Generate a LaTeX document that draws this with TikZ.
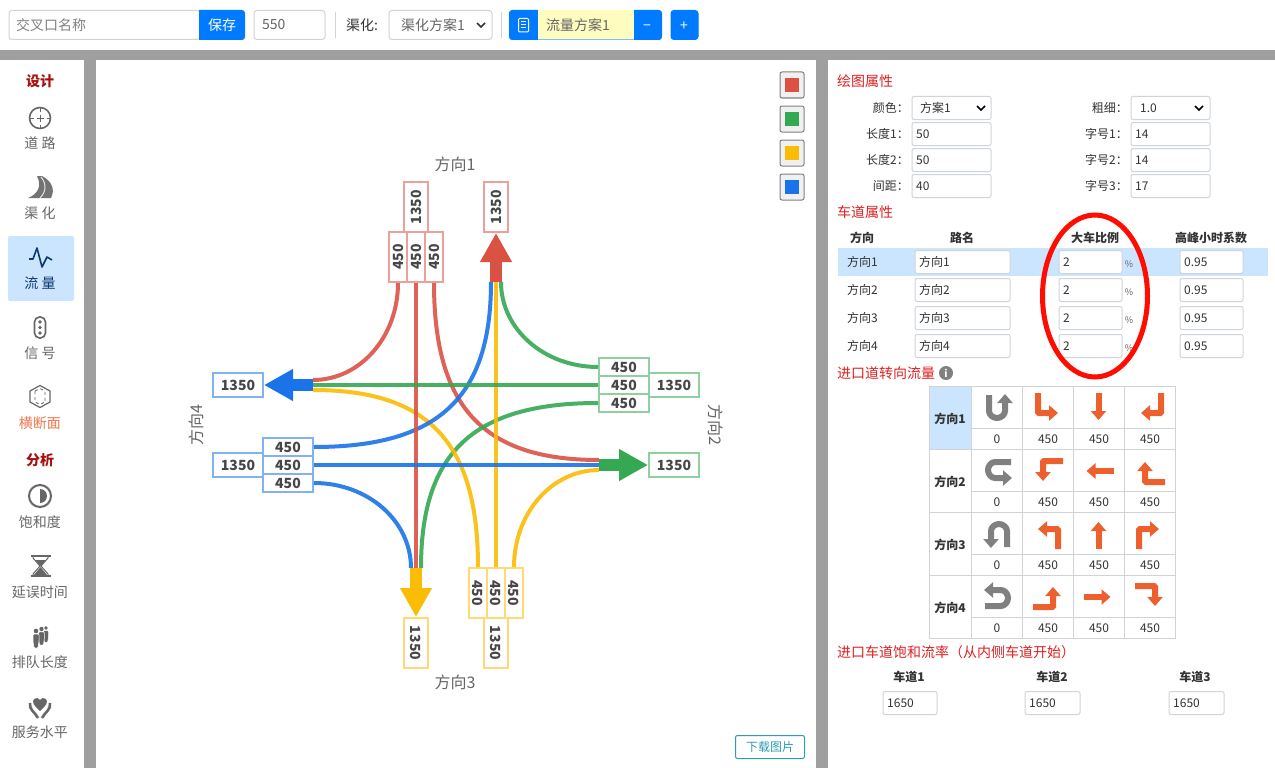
\documentclass[tikz,border=0pt]{standalone}
\usepackage{fontspec}
\setmainfont{Noto Sans CJK SC}
\usetikzlibrary{arrows.meta}

\newcommand{\fs}[1]{\fontsize{#1}{#1}\selectfont}

\definecolor{bargray}{HTML}{9F9F9F}
\definecolor{primary}{HTML}{007BFF}
\definecolor{rowblue}{HTML}{CCE5FF}
\definecolor{fieldline}{HTML}{CED4DA}
\definecolor{cellline}{HTML}{D0D4D8}
\definecolor{textdark}{HTML}{333333}
\definecolor{textgray}{HTML}{666666}
\definecolor{headred}{HTML}{E02020}
\definecolor{darkred}{HTML}{A81010}
\definecolor{navy}{HTML}{0B3A6E}
\definecolor{lred}{HTML}{DB5245}
\definecolor{lgreen}{HTML}{34A853}
\definecolor{lyellow}{HTML}{FBBC05}
\definecolor{lblue}{HTML}{1A73E8}
\definecolor{turnorange}{HTML}{EE5F2E}
\definecolor{turngray}{HTML}{808080}
\definecolor{infoteal}{HTML}{2E9BB0}

\tikzset{
  field/.style={draw=fieldline, line width=1pt, rounded corners=2pt, fill=white, anchor=west,
    minimum height=#1, inner sep=0pt, text=textdark, font=\fs{12}},
  field/.default=23pt,
  fieldtext/.style={anchor=west, inner sep=0pt, text=textdark, font=\fs{12}},
  barbox/.style={draw=fieldline, line width=1pt, rounded corners=3pt, fill=white, minimum height=29pt, inner sep=0pt, text=textgray, font=\fs{14}},
  bartext/.style={inner sep=0pt, text=textgray, font=\fs{14}},
  rlabel/.style={anchor=east, inner sep=0pt, text=textdark, font=\fs{12}},
  heading/.style={anchor=west, inner sep=0pt, text=headred, font=\fs{14}},
  tablehead/.style={inner sep=0pt, text=textdark, font=\fs{12}\bfseries},
  cellval/.style={inner sep=0pt, text=textdark, font=\fs{12}},
  sidehead/.style={inner sep=0pt, text=darkred, font=\fs{14}\bfseries},
  sidetext/.style={inner sep=0pt, text=textgray, font=\fs{14}},
  dirlabel/.style={inner sep=0pt, text=textgray, font=\fs{16}},
  lanebox/.style={draw=#1!55!white, line width=2pt, fill=white, minimum width=50pt, minimum height=18pt,
    inner sep=0pt, text=textdark!90, font=\fs{14}\bfseries},
  sumbox/.style={lanebox=#1, minimum height=24pt},
  flow/.style={line width=4pt, draw=#1, draw opacity=.9},
  bigarrow/.style={line width=12pt, draw=#1, -{Triangle[length=29pt,width=30pt,fill=#1]}},
  chev/.style={line width=1.6pt, draw=#1},
  chev/.default=black,
  sidepen/.style={draw=textgray, line width=1.6pt},
  swatchbtn/.style={draw=gray, line width=1pt, rounded corners=2pt, fill=black!6, minimum width=24pt, minimum height=26pt, inner sep=0pt},
  turn/.style={line width=6pt, draw=#1, rounded corners=1pt, -{Triangle[length=9pt,width=15pt,fill=#1]}},
  pics/turnu/.style={code={\draw[turn=turngray] (-9,-13) -- (-9,2) arc (180:0:8) -- (7,-14);}},
  pics/turnr/.style={code={\draw[turn=turnorange] (-10,-15) -- (-10,5) -- (10,5);}},
  pics/turns/.style={code={\draw[turn=turnorange] (0,-15) -- (0,12);}},
  pics/turnl/.style={code={\draw[turn=turnorange] (11,-15) -- (11,5) -- (-9,5);}},
  pics/person/.style={code={
    \fill[textgray] (0,0) circle (2.3);
    \filldraw[fill=textgray, draw=white, line width=0.5pt, rounded corners=1pt] (-3,3) -- (3,3) -- (3,10) -- (2,17) -- (-2,17) -- (-3,10) -- cycle;}},
}

\begin{document}
\begin{tikzpicture}[x=1pt,y=-1pt]
\useasboundingbox (0,0) rectangle (1275,768);
\fill[white] (0,0) rectangle (1275,768);

% frame
\fill[bargray] (0,50) rectangle (1275,60);
\fill[bargray] (84,60) rectangle (96,768);
\fill[bargray] (816,60) rectangle (828,768);

% top bar
\node[barbox, anchor=west, minimum width=191pt] (namefield) at (8.5,25) {};
\node[bartext, text=gray, anchor=west] (nametext) at (16,25) {交叉口名称};
\fill[primary] (199,10) [rounded corners=3pt] -- (245,10) -- (245,40) [sharp corners] -- (199,40) -- cycle;
\node[bartext, text=white] (savetext) at (222,25) {保存};
\node[barbox, anchor=west, minimum width=71pt] (sizefield) at (253.5,25) {};
\node[bartext, anchor=west] (sizetext) at (262,25) {550};
\draw[fieldline] (335.5,12) -- (335.5,38);
\node[bartext, text=textdark] (channellabel) at (362,25) {渠化:};
\node[barbox, anchor=west, minimum width=103pt] (channelselect) at (388.5,25) {};
\node[bartext, anchor=west] (channeltext) at (401,25) {渠化方案1};
\draw[chev=textdark] (477,23) -- (481,27) -- (485,23);
\draw[fieldline] (501.5,12) -- (501.5,38);
\fill[primary] (538,10) [rounded corners=3pt] -- (509,10) -- (509,40) [sharp corners] -- (538,40) -- cycle;
\fill[yellow!25!white] (538,10) rectangle (634,40);
\draw[primary!50!white] (538,39.5) -- (634,39.5);
\node[bartext, anchor=west] (flowtext) at (546,25) {流量方案1};
\draw[white, line width=1pt, rounded corners=1pt] (518.5,18.5) rectangle (528.5,32);
\draw[white, line width=1pt] (521,22) -- (526,22) (521,25) -- (526,25) (521,28) -- (526,28);
\fill[primary] (634,10) [rounded corners=3pt] -- (662,10) -- (662,40) [sharp corners] -- (634,40) -- cycle;
\node[bartext, text=white] (minustext) at (647,28) {−};
\node[barbox, draw=primary, fill=primary, minimum width=27pt, anchor=west] (plusbtn) at (670.5,25) {};
\node[bartext, text=white] (plustext) at (684,26.5) {+};

% side menu
\fill[rowblue, rounded corners=2pt] (8,236) rectangle (74,301);
\node[sidehead] (designhead) at (40,81) {设计};
\draw[sidepen] (40,118) circle (10.5);
\draw[sidepen, line width=1pt] (40,107) -- (40,111.5) (40,124.5) -- (40,129) (29,118) -- (33.5,118) (46.5,118) -- (51,118) (36.5,118) -- (43.5,118) (40,114.5) -- (40,121.5);
\node[sidetext] (roadlabel) at (40,143) {道 路};
\fill[turngray!90!black] (28,198) .. controls (38,194) and (42,186) .. (37,176) -- (42,176) .. controls (50,180) and (56,188) .. (51,198) -- cycle;
\draw[white!80!gray, line width=1pt] (41,177) .. controls (47,184) and (46,192) .. (40,198);
\node[sidetext] (channelbtn) at (40,213) {渠 化};
\draw[navy, line width=1.6pt, line join=round] (29,259) -- (33,259) -- (37,248) -- (42,267) -- (47,257) -- (52,260);
\node[sidetext, text=navy] (flowbtn) at (40,283) {流 量};
\draw[sidepen, rounded corners=5pt] (34.5,317) rectangle (45.5,338);
\fill[textgray] (40,322) circle (1.8) (40,327.5) circle (1.8) (40,333) circle (1.8);
\node[sidetext] (signalbtn) at (40,353) {信 号};
\draw[sidepen, line width=1.2pt] (40,385.5) -- (50,391) -- (50,402) -- (40,407.5) -- (30,402) -- (30,391) -- cycle;
\draw[textgray, line width=0.8pt, dashed] (35,391) -- (40,388.5) -- (45,391) -- (45,402) (35,391) -- (35,402) -- (40,404.5) -- (45,402);
\node[sidetext, text=turnorange!85!white] (sectionbtn) at (40,423) {横断面};
\node[sidehead] (analysishead) at (40,460) {分析};
\draw[sidepen, line width=2pt] (40,496) circle (11);
\fill[textgray] (40,489) arc (-90:90:7) -- cycle;
\node[sidetext] (satbtn) at (40,522) {饱和度};
\draw[sidepen] (30.5,556) -- (51,556) (30.5,576) -- (51,576);
\draw[sidepen, line width=1pt] (33,556) -- (33,558) -- (40,566) -- (33,574) -- (33,576) (48,556) -- (48,558) -- (41,566) -- (48,574) -- (48,576);
\fill[textgray] (35,560) -- (46,560) -- (40.5,566) -- cycle (40.5,567) -- (47,575) -- (34,575) -- cycle;
\node[sidetext] (delaybtn) at (40,592) {延误时间};
\pic[scale=0.85] at (46,628) {person};
\pic[scale=0.95] at (41.5,629) {person};
\pic at (36,631) {person};
\node[sidetext] (queuebtn) at (40,662) {排队长度};
\fill[textgray] (40,711) .. controls (33,705) and (32,702) .. (34,699) .. controls (36,697) and (39,698) .. (40,700) .. controls (41,698) and (44,697) .. (46,699) .. controls (48,702) and (47,705) .. (40,711) -- cycle;
\draw[sidepen, line width=2.6pt] (30,703) .. controls (29,710) and (35,712) .. (38,718);
\draw[sidepen, line width=2.6pt] (50,703) .. controls (51,710) and (45,712) .. (42,718);
\node[sidetext] (servicebtn) at (40,732) {服务水平};

% colour buttons
\node[swatchbtn] (redbtn) at (792,85) {};
\fill[lred] (785,78) rectangle (799,92);
\node[swatchbtn] (greenbtn) at (792,119) {};
\fill[lgreen] (785,112) rectangle (799,126);
\node[swatchbtn] (yellowbtn) at (792,153) {};
\fill[lyellow] (785,146) rectangle (799,160);
\node[swatchbtn] (bluebtn) at (792,187) {};
\fill[lblue] (785,180) rectangle (799,194);

% direction names
\node[dirlabel] (dir1) at (455,164) {方向1};
\node[dirlabel, rotate=-90] (dir2) at (716,425) {方向2};
\node[dirlabel] (dir3) at (455,682) {方向3};
\node[dirlabel, rotate=90] (dir4) at (196,425) {方向4};

% arrow bases
\coordinate (n1) at (491,282);
\coordinate (n2) at (496,282);
\coordinate (n3) at (501,282);
\coordinate (e1) at (599,460);
\coordinate (e2) at (599,465);
\coordinate (e3) at (599,470);
\coordinate (s1) at (411,568);
\coordinate (s2) at (416,568);
\coordinate (s3) at (421,568);
\coordinate (w1) at (313,380);
\coordinate (w2) at (313,385);
\coordinate (w3) at (313,390);

% lane boxes, north
\node[lanebox=lred, rotate=90] (in1a) at (398,257) {450};
\node[lanebox=lred, rotate=90] (in1b) at (416,257) {450};
\node[lanebox=lred, rotate=90] (in1c) at (434,257) {450};
\node[sumbox=lred, rotate=90] (sum1) at (416,207) {1350};
\node[sumbox=lred, rotate=90] (out1) at (496,207) {1350};
% lane boxes, east
\node[lanebox=lgreen] (in2a) at (624,367) {450};
\node[lanebox=lgreen] (in2b) at (624,385) {450};
\node[lanebox=lgreen] (in2c) at (624,403) {450};
\node[sumbox=lgreen] (sum2) at (674,385) {1350};
\node[sumbox=lgreen] (out2) at (674,465) {1350};
% lane boxes, south
\node[lanebox=lyellow, rotate=-90] (in3a) at (478,593) {450};
\node[lanebox=lyellow, rotate=-90] (in3b) at (496,593) {450};
\node[lanebox=lyellow, rotate=-90] (in3c) at (514,593) {450};
\node[sumbox=lyellow, rotate=-90] (sum3) at (496,643) {1350};
\node[sumbox=lyellow, rotate=-90] (out3) at (416,643) {1350};
% lane boxes, west
\node[lanebox=lblue] (in4a) at (288,447) {450};
\node[lanebox=lblue] (in4b) at (288,465) {450};
\node[lanebox=lblue] (in4c) at (288,483) {450};
\node[sumbox=lblue] (sum4) at (238,465) {1350};
\node[sumbox=lblue] (out4) at (238,385) {1350};

% flows, .west of a turned box is the end facing the junction
\draw[flow=lred] (in1a.west) .. controls +(0,54) and +(47,0) .. (w1);
\draw[flow=lred] (in1c.west) .. controls +(0,125) and +(-115,0) .. (e1);
\draw[flow=lgreen] (in2a.west) .. controls +(-54,0) and +(0,47) .. (n3);
\draw[flow=lgreen] (in2c.west) .. controls +(-125,0) and +(0,-115) .. (s3);
\draw[flow=lyellow] (in3a.west) .. controls +(0,-125) and +(115,0) .. (w3);
\draw[flow=lyellow] (in3c.west) .. controls +(0,-54) and +(-47,0) .. (e3);
\draw[flow=lblue] (in4a.east) .. controls +(125,0) and +(0,115) .. (n1);
\draw[flow=lblue] (in4c.east) .. controls +(54,0) and +(0,-47) .. (s1);
% straight on
\draw[flow=lred] (in1b.west) -- (s2);
\draw[flow=lyellow] (in3b.west) -- (n2);
\draw[flow=lgreen] (in2b.west) -- (w2);
\draw[flow=lblue] (in4b.east) -- (e2);

\draw[bigarrow=lred] (n2) -- (out1.west);
\draw[bigarrow=lgreen] (e2) -- (out2.west);
\draw[bigarrow=lyellow] (s2) -- (out3.west);
\draw[bigarrow=lblue] (w2) -- (out4.east);

% download button
\node[draw=infoteal, line width=1pt, rounded corners=2pt, minimum width=69pt, minimum height=23pt, inner sep=0pt, text=infoteal, font=\fs{12}] (download) at (770,747) {下载图片};

% drawing properties
\node[heading] (drawhead) at (837,81) {绘图属性};
\node[rlabel] (colorlabel) at (909,108) {颜色：};
\node[field, minimum width=79pt] (colorfield) at (911.5,108) {};
\node[fieldtext] (colortext) at (920,108) {方案1};
\draw[chev] (977,106) -- (981,110) -- (985,106);
\node[rlabel] (len1label) at (909,134) {长度1：};
\node[field, minimum width=79pt] (len1field) at (911.5,134) {};
\node[fieldtext] (len1text) at (916,134) {50};
\node[rlabel] (len2label) at (909,160) {长度2：};
\node[field, minimum width=79pt] (len2field) at (911.5,160) {};
\node[fieldtext] (len2text) at (916,160) {50};
\node[rlabel] (gaplabel) at (909,186) {间距：};
\node[field, minimum width=79pt] (gapfield) at (911.5,186) {};
\node[fieldtext] (gaptext) at (916,186) {40};
\node[rlabel] (widthlabel) at (1128,108) {粗细：};
\node[field, minimum width=79pt] (widthfield) at (1130.5,108) {};
\node[fieldtext] (widthtext) at (1140,108) {1.0};
\draw[chev] (1195,106) -- (1199,110) -- (1203,106);
\node[rlabel] (font1label) at (1128,134) {字号1：};
\node[field, minimum width=79pt] (font1field) at (1130.5,134) {};
\node[fieldtext] (font1text) at (1135,134) {14};
\node[rlabel] (font2label) at (1128,160) {字号2：};
\node[field, minimum width=79pt] (font2field) at (1130.5,160) {};
\node[fieldtext] (font2text) at (1135,160) {14};
\node[rlabel] (font3label) at (1128,186) {字号3：};
\node[field, minimum width=79pt] (font3field) at (1130.5,186) {};
\node[fieldtext] (font3text) at (1135,186) {17};

% lane properties
\node[heading] (lanehead) at (837,212) {车道属性};
\node[tablehead] (colfrom) at (862,238) {方向};
\node[tablehead] (colname) at (962,238) {路名};
\node[tablehead] (colratio) at (1095,238) {大车比例};
\node[tablehead] (colfactor) at (1211,238) {高峰小时系数};
\fill[rowblue] (838,248) rectangle (1268,276);
\foreach \k/\y in {1/262,2/290,3/318,4/346} {
  \node[fieldtext] (from\k) at (847,\y) {方向\k};
  \node[field, minimum width=95pt] (name\k) at (914.5,\y) {};
  \node[fieldtext] (namet\k) at (919,\y) {方向\k};
  \node[field, minimum width=63pt] (ratio\k) at (1058.5,\y) {};
  \node[fieldtext] (ratiot\k) at (1063,\y) {2};
  \node[inner sep=0pt, text=textgray, font=\fs{9}] (pct\k) at (1129,\y+2) {\%};
  \node[field, minimum width=63pt] (factor\k) at (1179.5,\y) {};
  \node[fieldtext] (factort\k) at (1184,\y) {0.95};
}
\draw[draw=red!90!orange, line width=5pt] (1095,296) ellipse [x radius=52.5, y radius=81];

% turning flows
\node[heading] (turnhead) at (837,373) {进口道转向流量};
\node[circle, fill=turngray, text=white, inner sep=0pt, minimum size=14pt, font=\fs{10}\bfseries] (infoicon) at (946,373) {i};
\fill[rowblue] (929,386) rectangle (971.5,449);
\draw[cellline] (929.5,386.5) rectangle (1175.5,638.5);
\draw[cellline] (929,449) -- (1176,449) (929,512.5) -- (1176,512.5) (929,575.5) -- (1176,575.5);
\draw[cellline] (972,428.5) -- (1176,428.5) (972,491.5) -- (1176,491.5) (972,554.5) -- (1176,554.5) (972,617.5) -- (1176,617.5);
\draw[cellline] (971.5,386) -- (971.5,639) (1022.5,386) -- (1022.5,639) (1073.5,386) -- (1073.5,639) (1124.5,386) -- (1124.5,639);
\foreach \k/\y/\r in {1/408/0,2/471/-90,3/534/180,4/597/90} {
  \node[tablehead] (row\k) at (950,\y+11) {方向\k};
  \pic[rotate=\r] at (998,\y) {turnu};
  \pic[rotate=\r] at (1048,\y) {turnr};
  \pic[rotate=\r] at (1098.5,\y) {turns};
  \pic[rotate=\r] at (1150,\y) {turnl};
  \node[cellval] (val\k a) at (997,\y+31.5) {0};
  \node[cellval] (val\k b) at (1048,\y+31.5) {450};
  \node[cellval] (val\k c) at (1099,\y+31.5) {450};
  \node[cellval] (val\k d) at (1150,\y+31.5) {450};
}

% saturation flow
\node[heading] (sathead) at (837,652) {进口车道饱和流率（从内侧车道开始）};
\node[tablehead] (lane1) at (909,677) {车道1};
\node[tablehead] (lane2) at (1052,677) {车道2};
\node[tablehead] (lane3) at (1195,677) {车道3};
\node[field, minimum width=54pt] (sat1) at (882.5,703) {};
\node[fieldtext] (satt1) at (887,703) {1650};
\node[field, minimum width=55pt] (sat2) at (1024.5,703) {};
\node[fieldtext] (satt2) at (1029,703) {1650};
\node[field, minimum width=55pt] (sat3) at (1168.5,703) {};
\node[fieldtext] (satt3) at (1173,703) {1650};

\end{tikzpicture}
\end{document}
